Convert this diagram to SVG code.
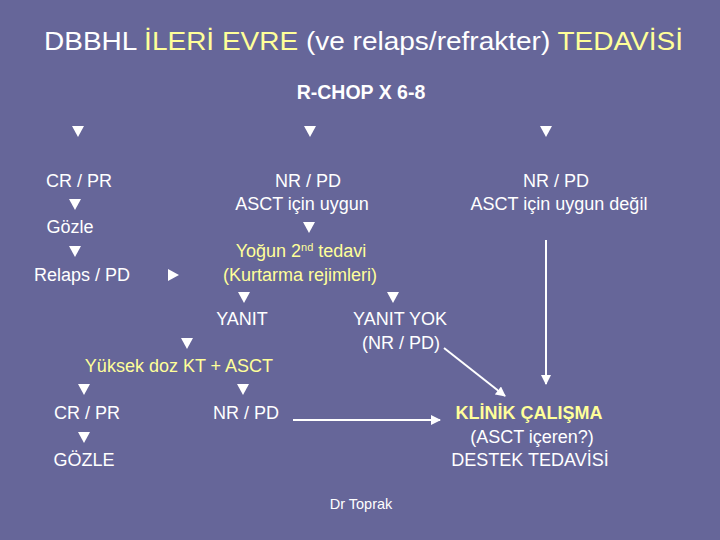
<svg xmlns="http://www.w3.org/2000/svg" width="720" height="540" viewBox="0 0 720 540">
<defs>
<style>
text{font-family:"Liberation Sans",Arial,sans-serif;fill:#ffffff;text-anchor:middle}
.t{font-size:18px}
.y{fill:#ffff99}
.b{font-weight:bold}
.ln{stroke:#ffffff;stroke-width:2;fill:none}
</style>
<polygon id="dn" points="-6,-5 6,-5 0,6" fill="#ffffff"/>
<polygon id="rt" points="-5,-6 6,0 -5,6" fill="#ffffff"/>
<marker id="ah" viewBox="0 0 10 10" refX="9" refY="5" markerWidth="5" markerHeight="5" orient="auto" markerUnits="strokeWidth">
<path d="M0,0 L10,5 L0,10 z" fill="#ffffff"/>
</marker>
</defs>
<rect width="720" height="540" fill="#666699"/>
<g id="title"><text x="363.5" y="50" style="font-size:26px" textLength="639" lengthAdjust="spacingAndGlyphs">DBBHL <tspan class="y">İLERİ EVRE</tspan> (ve relaps/refrakter) <tspan class="y">TEDAVİSİ</tspan></text></g>
<g id="rchop"><text x="361" y="99" class="b" style="font-size:19.5px">R-CHOP X 6-8</text></g>
<g id="connectors">
<use href="#dn" x="78" y="131"/>
<use href="#dn" x="310" y="131"/>
<use href="#dn" x="546" y="131"/>
<use href="#dn" x="75" y="204"/>
<use href="#dn" x="75" y="251"/>
<use href="#rt" x="173" y="275"/>
<use href="#dn" x="309" y="227"/>
<use href="#dn" x="244" y="297"/>
<use href="#dn" x="393" y="297"/>
<use href="#dn" x="187" y="343"/>
<use href="#dn" x="84" y="389"/>
<use href="#dn" x="243" y="389"/>
<use href="#dn" x="84" y="437"/>
<line class="ln" x1="293" y1="420" x2="440" y2="420" marker-end="url(#ah)"/>
<line class="ln" x1="546" y1="240" x2="546" y2="384" marker-end="url(#ah)"/>
<line class="ln" x1="444" y1="348" x2="505" y2="396" marker-end="url(#ah)"/>
</g>
<g id="crpr1"><text x="79" y="187" class="t">CR / PR</text></g>
<g id="gozle1"><text x="70" y="233" class="t">Gözle</text></g>
<g id="relaps"><text x="82" y="281" class="t">Relaps / PD</text></g>
<g id="nrpd1"><text x="308" y="187" class="t">NR / PD</text><text x="302" y="210" class="t">ASCT için uygun</text></g>
<g id="yogun"><text x="301" y="257" class="t y">Yoğun 2<tspan dy="-6" style="font-size:11px">nd</tspan><tspan dy="6"> tedavi</tspan></text><text x="300" y="281" class="t y">(Kurtarma rejimleri)</text></g>
<g id="yanit"><text x="242" y="325" class="t">YANIT</text></g>
<g id="yanityok"><text x="400" y="325" class="t">YANIT YOK</text><text x="401" y="349" class="t">(NR / PD)</text></g>
<g id="yuksek"><text x="179" y="372" class="t y">Yüksek doz KT + ASCT</text></g>
<g id="crpr2"><text x="87" y="419" class="t">CR / PR</text></g>
<g id="nrpd2"><text x="246" y="419" class="t">NR / PD</text></g>
<g id="gozle2"><text x="84" y="466" class="t">GÖZLE</text></g>
<g id="nrpd3"><text x="556" y="187" class="t">NR / PD</text><text x="559" y="210" class="t">ASCT için uygun değil</text></g>
<g id="klinik"><text x="529" y="419" class="t y b">KLİNİK ÇALIŞMA</text><text x="532" y="443" class="t">(ASCT içeren?)</text><text x="530" y="466" class="t">DESTEK TEDAVİSİ</text></g>
<g id="footer"><text x="361" y="509" style="font-size:14.5px">Dr Toprak</text></g>
</svg>
